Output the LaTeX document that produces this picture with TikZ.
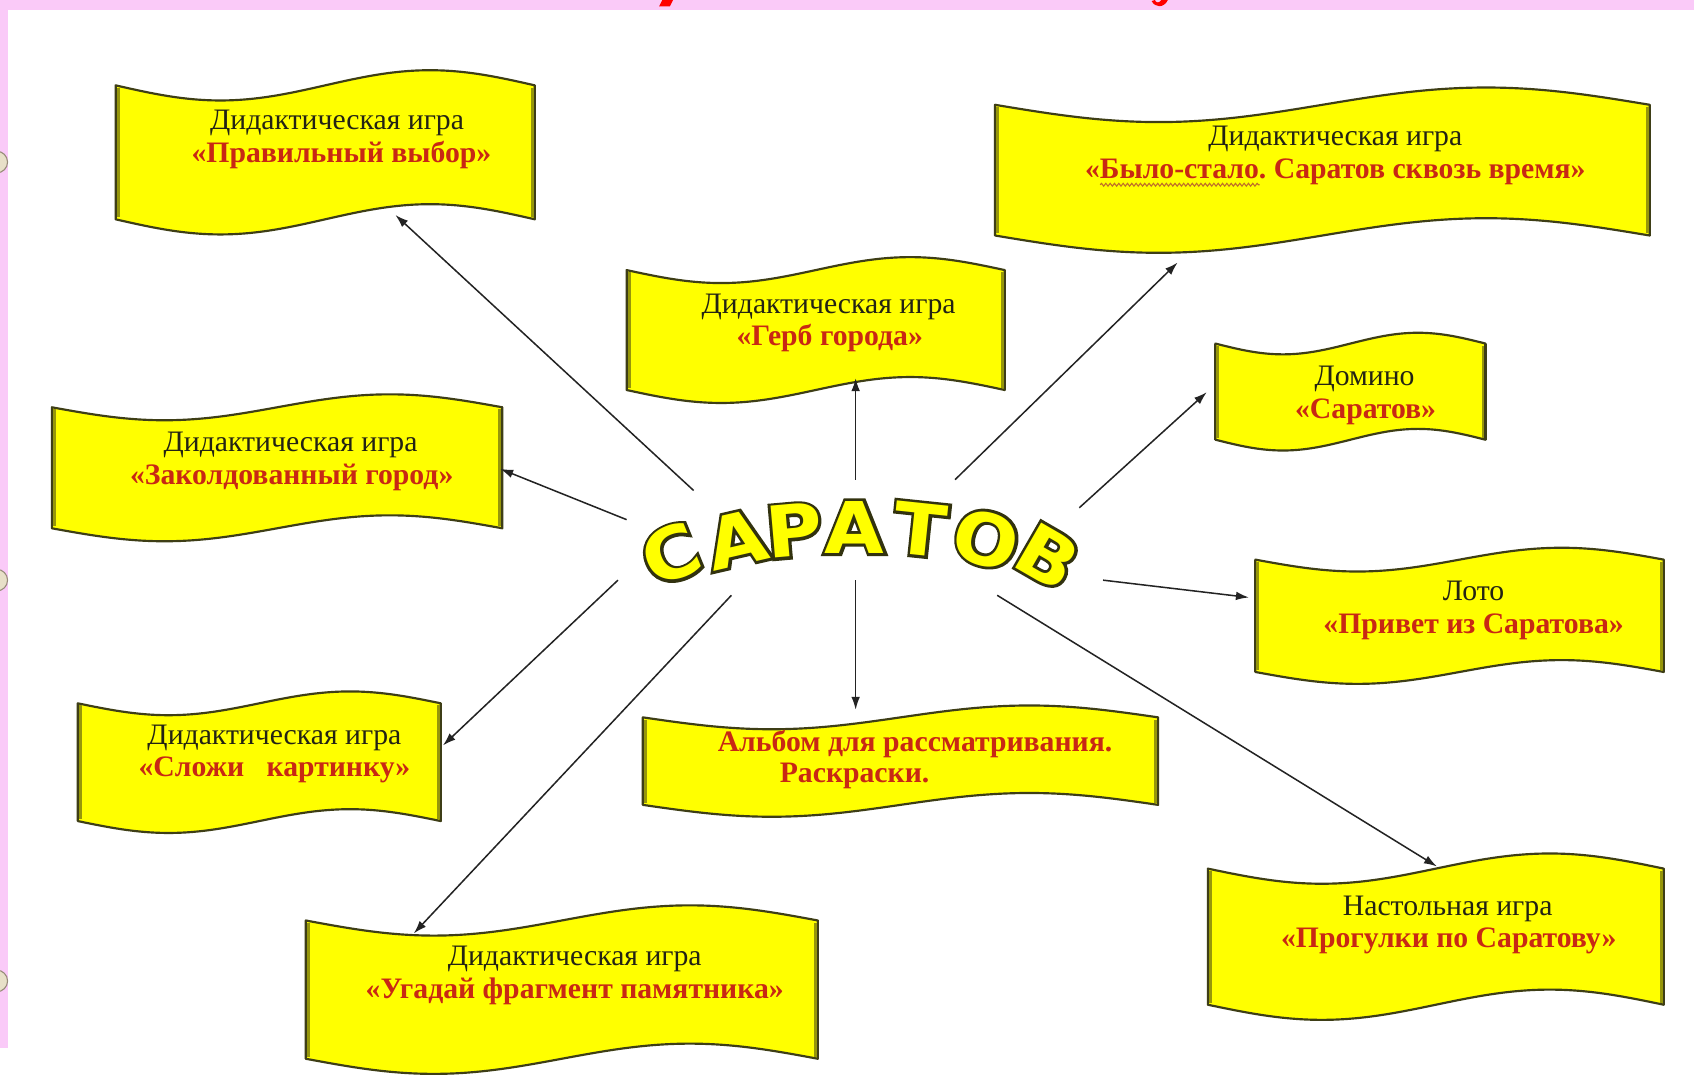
\documentclass[tikz,border=0pt]{standalone}
\usepackage{fontspec}
\setmainfont{Liberation Serif}
\newfontfamily\wafont{DejaVu Sans}
\newfontfamily\waoutfont{DejaVu Sans}[BoldFeatures={FakeBold=8}]
\usetikzlibrary{arrows.meta,calc,decorations.pathmorphing}
\frenchspacing
\definecolor{pinkbg}{RGB}{250,202,248}
\definecolor{bannerfill}{RGB}{255,255,0}
\definecolor{bannerline}{RGB}{62,62,22}
\definecolor{banneredge}{RGB}{150,150,10}
\definecolor{txtred}{RGB}{200,40,20}
\definecolor{txtdark}{RGB}{35,35,20}
\definecolor{arrowcol}{RGB}{35,35,35}
\definecolor{waline}{RGB}{50,50,15}
\definecolor{wafill}{RGB}{255,255,0}
\definecolor{ringcol}{RGB}{232,224,200}
\definecolor{ringline}{RGB}{150,140,120}
\definecolor{titlered}{RGB}{255,0,0}
\definecolor{squigcol}{RGB}{190,110,40}
\tikzset{
  banner/.style={fill=bannerfill, draw=bannerline, line width=2pt, line join=round},
  bedge/.style={draw=banneredge, line width=3pt},
  gametitle/.style={text=txtdark, font=\fontsize{27.5}{32}\selectfont, inner sep=0pt, anchor=base},
  gamename/.style={text=txtred, font=\bfseries\fontsize{27.5}{32}\selectfont, inner sep=0pt, anchor=base},
  conn/.style={draw=arrowcol, line width=1.4pt, -{Latex[length=12pt,width=8pt]}},
  waout/.style={text=waline, font=\waoutfont\bfseries\fontsize{66}{70}\selectfont, inner sep=0pt, xscale=1.08},
  wain/.style={text=wafill, font=\wafont\bfseries\fontsize{66}{70}\selectfont, inner sep=0pt, xscale=1.08},
  squiggle/.style={draw=squigcol, line width=1pt, decorate, decoration={snake, amplitude=1.3pt, segment length=4pt}},
}
% banner: name, x0, x1, ytop, ybottom, amplitude
\newcommand\wavebanner[6]{%
  \path[banner] (#2,#4) sin ({#2+(#3-#2)/4},{#4+#6}) cos ({(#2+#3)/2},#4)
     sin ({#2+3*(#3-#2)/4},{#4-#6}) cos (#3,#4) -- (#3,#5)
     sin ({#3-(#3-#2)/4},{#5-#6}) cos ({(#2+#3)/2},#5)
     sin ({#3-3*(#3-#2)/4},{#5+#6}) cos (#2,#5) -- cycle;
  \draw[bedge] ({#2+2.2},{#4+2}) -- ({#2+2.2},{#5-2});
  \draw[bedge] ({#3-2.2},{#4+2}) -- ({#3-2.2},{#5-2});
  \draw[draw=bannerline, line width=2pt] (#2,#4) -- (#2,#5) (#3,#4) -- (#3,#5);
  \coordinate (#1) at ({(#2+#3)/2},{(#4+#5)/2});
}
% wordart letter: name, position, rotation, letter
\newcommand\waletter[4]{%
  \node[rotate=#3, waout] (#1o) at (#2) {#4};
  \node[rotate=#3, wain] (#1) at (#2) {#4};
}
\begin{document}
\begin{tikzpicture}[x=1pt, y=-1pt]
\useasboundingbox (0,0) rectangle (1568,995);
% page
\fill[white] (0,0) rectangle (1568,995);
\fill[pinkbg] (0,0) rectangle (1568,9);
\fill[pinkbg] (0,0) rectangle (7,970);
\foreach \yy in {150,537,908}
  \filldraw[fill=ringcol, draw=ringline, line width=1pt] (-3,\yy) circle (10);
% cut-off title fragments
\fill[titlered] (613,0) -- (623,0) -- (620,6) -- (610,6) -- cycle;
\fill[titlered] (1066,1) .. controls (1069,7) and (1077,8) .. (1081,0) -- (1075,0)
   .. controls (1073,3) and (1070,3) .. (1069,0) -- cycle;

% banners
\wavebanner{b1}{107}{495}{79}{203}{14}
\wavebanner{b2}{921}{1527}{97}{218}{16}
\wavebanner{b3}{580}{930}{250}{361}{12}
\wavebanner{b4}{48}{465}{377}{489}{12}
\wavebanner{b5}{1125}{1375}{318}{407}{10}
\wavebanner{b6}{1162}{1540}{518}{622}{11}
\wavebanner{b7}{72}{408}{651}{760}{11}
\wavebanner{b8}{595}{1072}{664}{745}{11}
\wavebanner{b9}{283}{757}{852}{980}{14}
\wavebanner{b10}{1118}{1540}{804}{930}{14}

% texts
\node[gametitle] (t1a) at (312,120) {Дидактическая игра};
\node[gamename]  (t1b) at (316,150) {«Правильный выбор»};
\node[gametitle] (t2a) at (1236,135) {Дидактическая игра};
\node[gamename]  (t2b) at (1236,165) {«Было-стало. Саратов сквозь время»};
\node[gamename, anchor=base west] (t2q) at (t2b.base west) {\phantom{«}};
\node[gamename, anchor=base west] (t2w) at (t2q.base east) {\phantom{Было-стало}};
\draw[squiggle] ($(t2w.base west)+(0,6)$) -- ($(t2w.base east)+(0,6)$);
\node[gametitle] (t3a) at (767,290) {Дидактическая игра};
\node[gamename]  (t3b) at (768,320) {«Герб города»};
\node[gametitle] (t4a) at (269,418) {Дидактическая игра};
\node[gamename]  (t4b) at (270,448) {«Заколдованный город»};
\node[gametitle] (t5a) at (1263,357) {Домино};
\node[gamename]  (t5b) at (1264,387) {«Саратов»};
\node[gametitle] (t6a) at (1364,556) {Лото};
\node[gamename]  (t6b) at (1364,586) {«Привет из Саратова»};
\node[gametitle] (t7a) at (254,689) {Дидактическая игра};
\node[gamename]  (t7b) at (254,719) {«Сложи\ \ \ картинку»};
\node[gamename]  (t8a) at (847,696) {Альбом для рассматривания.};
\node[gamename]  (t8b) at (791,724) {Раскраски.};
\node[gametitle] (t9a) at (532,894) {Дидактическая игра};
\node[gamename]  (t9b) at (532,924) {«Угадай фрагмент памятника»};
\node[gametitle] (t10a) at (1340,847) {Настольная игра};
\node[gamename]  (t10b) at (1341,877) {«Прогулки по Саратову»};

% centre word
\waletter{s1}{621,513}{22}{С}
\waletter{s2}{682,499}{13}{А}
\waletter{s3}{735,491}{5}{Р}
\waletter{s4}{791,488}{0}{А}
\waletter{s5}{852,490}{-6}{Т}
\waletter{s6}{913,499}{-16}{О}
\waletter{s7}{970,515}{-30}{В}

% connector ends
\coordinate (c1s) at (642,454);  \coordinate (c1e) at (366,199);
\coordinate (c2s) at (580,481);  \coordinate (c2e) at (463,434);
\coordinate (c3s) at (572,537);  \coordinate (c3e) at (410,690);
\coordinate (c4s) at (677,551);  \coordinate (c4e) at (383,864);
\coordinate (c5s) at (792,537);  \coordinate (c5e) at (792,657);
\coordinate (c6s) at (923,551);  \coordinate (c6e) at (1330,802);
\coordinate (c7s) at (1021,537); \coordinate (c7e) at (1156,553);
\coordinate (c8s) at (999,470);  \coordinate (c8e) at (1117,363);
\coordinate (c9s) at (884,444);  \coordinate (c9e) at (1090,243);
\coordinate (c10s) at (792,444); \coordinate (c10e) at (792,350);
\foreach \i in {1,...,10}
  \draw[conn] (c\i s) -- (c\i e);
\end{tikzpicture}
\end{document}
